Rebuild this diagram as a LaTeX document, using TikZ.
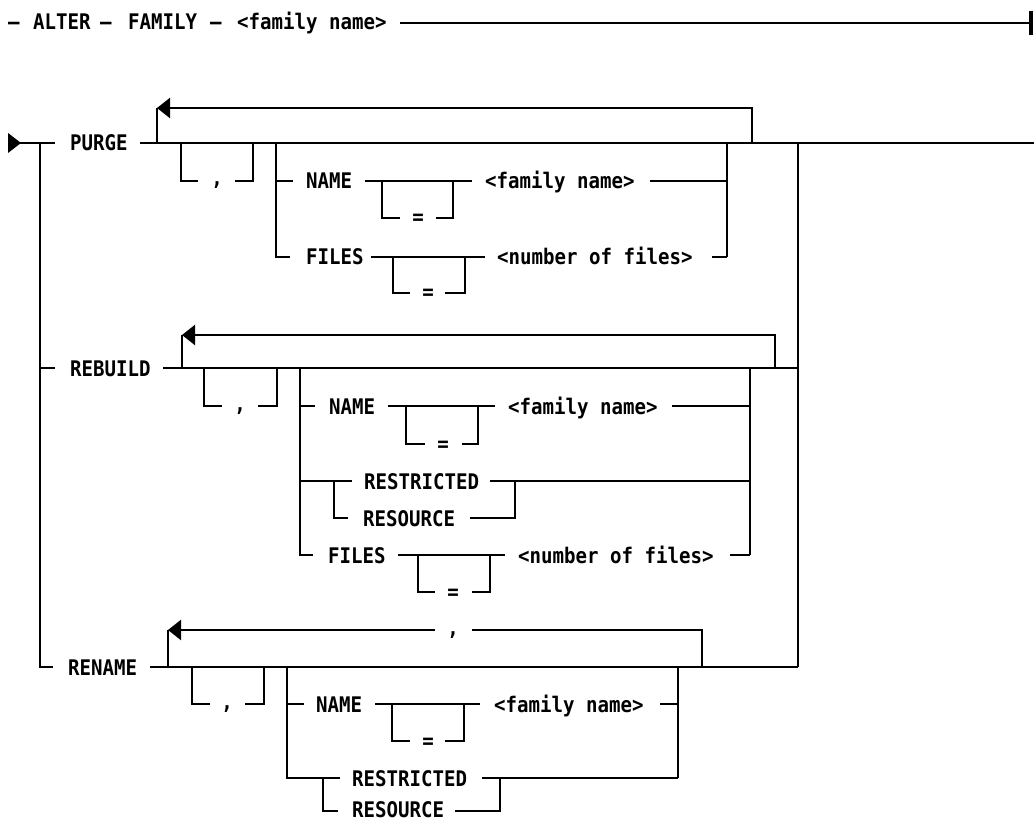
\documentclass[tikz,border=0pt]{standalone}
\usepackage{fontspec}
\setmainfont{DejaVu Sans Mono}[FakeStretch=0.888]
\usetikzlibrary{arrows.meta}
\tikzset{
  rr/.style={line width=2.2pt},
  lbl/.style={font=\bfseries\fontsize{21.5}{24}\selectfont, inner sep=0pt, anchor=base west},
  sym/.style={lbl, anchor=base},
  loopback/.style={rr, -{Triangle[length=13pt,width=20pt]}},
}
\begin{document}
\begin{tikzpicture}[x=1pt,y=-1pt]
\useasboundingbox (0,0) rectangle (1034,821);

% ---------- top statement ----------
\node[lbl] (d1) at (8,30) {–};
\node[lbl] (alter) at (33,30) {ALTER};
\node[lbl] (d2) at (100,30) {–};
\node[lbl] (family) at (128,30) {FAMILY};
\node[lbl] (d3) at (210,30) {–};
\node[lbl] (fname0) at (237,30) {<family name>};
\coordinate (topstart) at (400,23);
\coordinate (endbar) at (1031,23);
\draw[rr] (topstart) -- (endbar);
\draw[line width=4pt] (1031,11) -- (1031,35);

% ---------- PURGE ----------
\fill (8,133) -- (21,143) -- (8,153) -- cycle;
\draw[rr] (19,143) -- (55,143);
\draw[rr] (40,143) -- (40,667) -- (53,667);
\node[lbl] (purge) at (70,151) {PURGE};
\draw[rr] (140,143) -- (1034,143);
\draw[rr] (157,143) -- (157,108);
\draw[loopback] (752,143) -- (752,108) -- (157,108);
\draw[rr] (181,143) -- (181,181) -- (198,181);
\node[sym] (pc) at (217,186) {,};
\draw[rr] (235,181) -- (253,181) -- (253,143);
\draw[rr] (276,143) -- (276,257) -- (290,257);
\draw[rr] (276,181) -- (293,181);
\node[lbl] (pname) at (306,189) {NAME};
\draw[rr] (365,181) -- (472,181);
\draw[rr] (382,181) -- (382,218) -- (400,218);
\node[sym] (peq1) at (418,225) {=};
\draw[rr] (436,218) -- (453,218) -- (453,181);
\node[lbl] (pfam) at (485,189) {<family name>};
\draw[rr] (650,181) -- (727,181);
\draw[rr] (727,143) -- (727,257);
\node[lbl] (pfiles) at (306,265) {FILES};
\draw[rr] (371,257) -- (485,257);
\draw[rr] (393,257) -- (393,293) -- (410,293);
\node[sym] (peq2) at (428,300) {=};
\draw[rr] (445,293) -- (465,293) -- (465,257);
\node[lbl] (pnum) at (497,265) {<number of files>};
\draw[rr] (712,257) -- (727,257);
\draw[rr] (798,143) -- (798,667);

% ---------- REBUILD ----------
\draw[rr] (40,368) -- (55,368);
\node[lbl] (rebuild) at (70,376) {REBUILD};
\draw[rr] (163,368) -- (798,368);
\draw[rr] (182,368) -- (182,335);
\draw[loopback] (775,368) -- (775,335) -- (182,335);
\draw[rr] (204,368) -- (204,406) -- (222,406);
\node[sym] (rc) at (240,411) {,};
\draw[rr] (258,406) -- (277,406) -- (277,368);
\draw[rr] (300,368) -- (300,555) -- (313,555);
\draw[rr] (300,406) -- (315,406);
\node[lbl] (rname) at (329,414) {NAME};
\draw[rr] (388,406) -- (495,406);
\draw[rr] (406,406) -- (406,444) -- (425,444);
\node[sym] (req1) at (443,451) {=};
\draw[rr] (462,444) -- (478,444) -- (478,406);
\node[lbl] (rfam) at (508,414) {<family name>};
\draw[rr] (672,406) -- (750,406);
\draw[rr] (750,368) -- (750,555);
\draw[rr] (300,481) -- (352,481);
\draw[rr] (334,481) -- (334,518) -- (348,518);
\node[lbl] (rrestr) at (364,489) {RESTRICTED};
\draw[rr] (490,481) -- (750,481);
\draw[rr] (515,481) -- (515,518) -- (470,518);
\node[lbl] (rres) at (363,526) {RESOURCE};
\node[lbl] (rfiles) at (328,563) {FILES};
\draw[rr] (398,555) -- (505,555);
\draw[rr] (418,555) -- (418,592) -- (435,592);
\node[sym] (req2) at (453,599) {=};
\draw[rr] (472,592) -- (490,592) -- (490,555);
\node[lbl] (rnum) at (518,563) {<number of files>};
\draw[rr] (730,555) -- (750,555);

% ---------- RENAME ----------
\node[lbl] (rename) at (68,675) {RENAME};
\draw[rr] (150,667) -- (798,667);
\draw[rr] (168,667) -- (168,630);
\draw[rr] (702,667) -- (702,630) -- (472,630);
\node[sym] (nc0) at (453,635) {,};
\draw[loopback] (435,630) -- (168,630);
\draw[rr] (192,667) -- (192,704) -- (210,704);
\node[sym] (nc) at (227,709) {,};
\draw[rr] (245,704) -- (264,704) -- (264,667);
\draw[rr] (287,667) -- (287,778) -- (340,778);
\draw[rr] (287,704) -- (304,704);
\node[lbl] (nname) at (316,712) {NAME};
\draw[rr] (375,704) -- (480,704);
\draw[rr] (392,704) -- (392,741) -- (410,741);
\node[sym] (neq) at (428,748) {=};
\draw[rr] (445,741) -- (464,741) -- (464,704);
\node[lbl] (nfam) at (494,712) {<family name>};
\draw[rr] (660,704) -- (678,704);
\draw[rr] (678,667) -- (678,778);
\draw[rr] (323,778) -- (323,811) -- (338,811);
\node[lbl] (nrestr) at (352,786) {RESTRICTED};
\draw[rr] (482,778) -- (678,778);
\draw[rr] (500,778) -- (500,811) -- (455,811);
\node[lbl] (nres) at (352,817) {RESOURCE};
\end{tikzpicture}
\end{document}
